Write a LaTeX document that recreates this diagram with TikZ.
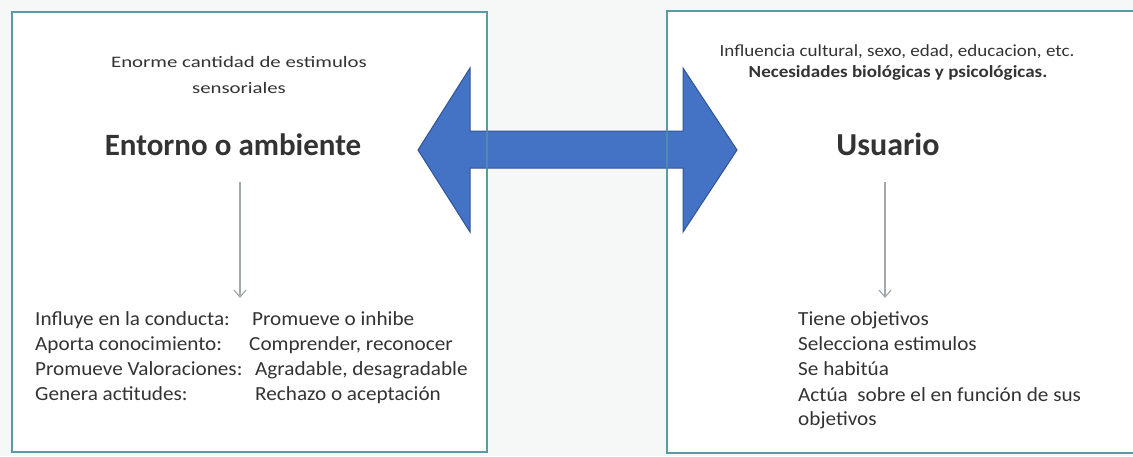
\documentclass[tikz,border=0pt]{standalone}
\usepackage{fontspec}
\setmainfont{Carlito}
\usetikzlibrary{arrows.meta}
\definecolor{bg}{HTML}{F6F8F8}
\definecolor{boxline}{HTML}{5A9AA5}
\definecolor{arrfill}{HTML}{4472C4}
\definecolor{arrline}{HTML}{2F5597}
\definecolor{txt}{HTML}{333333}
\definecolor{down}{HTML}{A3A8AC}
\newcommand{\wide}[2]{\scalebox{#1}[1]{#2}}
\tikzset{
  panel/.style={draw=boxline, line width=2.6pt, fill=white},
  title/.style={font=\fontsize{31}{35}\selectfont\bfseries, text=txt, inner sep=0pt, anchor=base},
  small/.style={font=\fontsize{16}{20}\selectfont, text=txt, inner sep=0pt, anchor=base},
  item/.style={font=\fontsize{20}{25}\selectfont, text=txt, inner sep=0pt, anchor=base west},
  downarrow/.style={draw=down, line width=1.2pt, -{Straight Barb[length=7pt,width=12pt,line width=1.2pt]}},
  bigarrow/.style={fill=arrfill, draw=arrline, line width=1pt, line join=miter}
}
\begin{document}
\begin{tikzpicture}[x=1pt,y=-1pt]
\useasboundingbox (0,0) rectangle (1133,456);
\clip (0,0) rectangle (1133,456);
\fill[bg] (0,0) rectangle (1133,456);
% panels
\draw[panel] (12,12) rectangle (487,452);
\draw[panel] (667,11) rectangle (1145,453);
% big double arrow
\draw[bigarrow] (418,150) -- (470,68) -- (470,131) -- (683,131) -- (683,68) -- (737,150) -- (683,232) -- (683,168) -- (470,168) -- (470,232) -- cycle;
\draw[draw=boxline, line width=1.2pt, opacity=0.6] (487,120) -- (487,180);
\draw[draw=boxline, line width=1.2pt, opacity=0.6] (667,55) -- (667,245);

% left panel
\node[small] (lt1) at (239,67) {\wide{1.3}{Enorme cantidad de estimulos}};
\node[small] (lt2) at (239,93) {\wide{1.3}{sensoriales}};
\node[title] (lhead) at (233,155) {Entorno o ambiente};
\coordinate (la1) at (240,182);
\coordinate (la2) at (240,298);
\draw[downarrow] (la1) -- (la2);
\node[item] (l1a) at (35,325) {\wide{1.06}{Influye en la conducta:}};
\node[item] (l1b) at (252,325) {\wide{1.06}{Promueve o inhibe}};
\node[item] (l2a) at (35,350) {\wide{1.06}{Aporta conocimiento:}};
\node[item] (l2b) at (249,350) {\wide{1.06}{Comprender, reconocer}};
\node[item] (l3a) at (35,375) {\wide{1.06}{Promueve Valoraciones:}};
\node[item] (l3b) at (255,375) {\wide{1.06}{Agradable, desagradable}};
\node[item] (l4a) at (35,400) {\wide{1.06}{Genera actitudes:}};
\node[item] (l4b) at (255,400) {\wide{1.06}{Rechazo o aceptación}};

% right panel
\node[small, font=\fontsize{17}{20}\selectfont] (rt1) at (897,56) {\wide{1.12}{Influencia cultural, sexo, edad, educacion, etc.}};
\node[small, font=\fontsize{17}{20}\selectfont\bfseries] (rt2) at (898,77) {\wide{1.12}{Necesidades biológicas y psicológicas.}};
\node[title, font=\fontsize{32}{35}\selectfont\bfseries] (rhead) at (888,155) {Usuario};
\coordinate (ra1) at (885,182);
\coordinate (ra2) at (885,298);
\draw[downarrow] (ra1) -- (ra2);
\node[item] (r1) at (798,325) {\wide{1.06}{Tiene objetivos}};
\node[item] (r2) at (798,350) {\wide{1.06}{Selecciona estimulos}};
\node[item] (r3) at (798,375) {\wide{1.06}{Se habitúa}};
\node[item] (r4) at (798,401) {\wide{1.06}{Actúa\ \ sobre el en función de sus}};
\node[item] (r5) at (798,425) {\wide{1.06}{objetivos}};
\end{tikzpicture}
\end{document}
